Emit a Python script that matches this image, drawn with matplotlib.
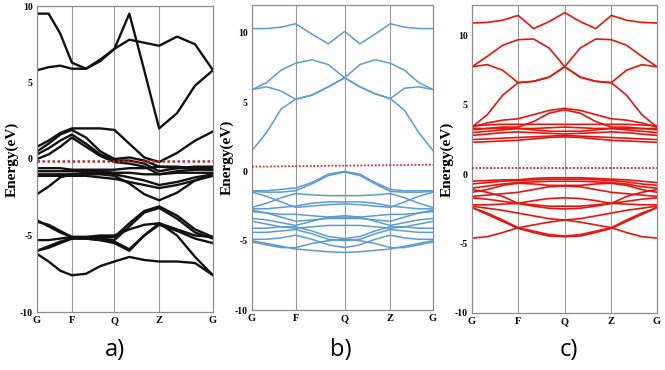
import numpy as np
import matplotlib
matplotlib.use("Agg")
import matplotlib.pyplot as plt

# ---------------- data ----------------
kpath_labels = ["G", "F", "Q", "Z", "G"]
kpts_a = [0.0, 0.198, 0.44, 0.694, 1.0]
kpts_b = [0.0, 0.241, 0.512, 0.764, 1.0]
kpts_c = [0.0, 0.249, 0.501, 0.753, 1.0]

# energies at 13 k samples: G,.,.,F,.,.,Q,.,.,Z,.,.,G
bands_a = [
    [9.5, 9.5, 8.2, 6.3, 5.9, 6.4, 7.2, 9.5, 5.8, 2.0, 3.0, 4.8, 5.8],
    [5.8, 6.0, 6.1, 5.9, 5.9, 6.5, 7.2, 7.8, 7.6, 7.4, 8.0, 7.5, 5.8],
    [0.8, 1.2, 1.7, 2.0, 2.0, 2.0, 1.9, 1.0, 0.1, -0.2, 0.4, 1.2, 1.8],
    [0.5, 1.0, 1.6, 1.9, 1.4, 0.5, 0.0, 0.1, -0.1, -0.5, -0.6, -0.6, -0.6],
    [0.3, 0.7, 1.2, 1.6, 1.0, 0.3, -0.1, -0.1, -0.3, -0.8, -0.6, -0.5, -0.5],
    [0.0, 0.3, 0.8, 1.4, 0.8, 0.2, -0.2, -0.3, -0.5, -1.0, -0.8, -0.7, -0.7],
    [-0.6, -0.6, -0.6, -0.7, -0.7, -0.7, -0.7, -0.6, -0.6, -0.5, -0.5, -0.6, -0.7],
    [-0.8, -0.8, -0.8, -0.8, -0.8, -0.8, -0.9, -0.9, -1.0, -1.0, -0.9, -0.9, -0.9],
    [-1.0, -1.0, -1.0, -1.0, -0.9, -0.9, -1.0, -1.2, -1.4, -1.7, -1.5, -1.2, -1.0],
    [-2.3, -1.8, -1.2, -1.0, -1.0, -1.0, -1.1, -1.6, -2.3, -2.7, -2.2, -1.4, -1.0],
    [-1.1, -1.1, -1.1, -1.1, -1.1, -1.2, -1.3, -1.5, -1.7, -1.9, -1.7, -1.4, -1.1],
    [-4.0, -4.4, -4.8, -5.1, -5.1, -5.1, -5.1, -4.2, -3.4, -3.1, -3.7, -4.6, -5.1],
    [-5.3, -5.3, -5.2, -5.1, -5.1, -5.0, -5.0, -4.6, -4.3, -4.2, -4.6, -5.0, -5.1],
    [-4.1, -4.3, -4.7, -5.1, -5.1, -5.2, -5.3, -4.4, -3.5, -3.2, -3.9, -4.8, -5.2],
    [-6.0, -5.8, -5.5, -5.2, -5.2, -5.3, -5.4, -5.9, -5.0, -4.3, -4.7, -5.2, -5.5],
    [-6.0, -5.7, -5.4, -5.2, -5.2, -5.3, -5.5, -6.0, -5.0, -4.2, -5.0, -6.4, -7.6],
    [-6.2, -6.7, -7.3, -7.6, -7.5, -7.0, -6.7, -6.4, -6.6, -6.7, -6.7, -6.8, -7.6],
]

bands_b = [
    [10.3, 10.3, 10.4, 10.65, 9.9, 9.2, 10.1, 9.2, 9.9, 10.65, 10.4, 10.3, 10.3],
    [5.9, 6.4, 7.3, 7.8, 8.05, 7.7, 6.75, 6.1, 5.6, 5.25, 6.0, 6.1, 5.9],
    [5.9, 6.1, 5.8, 5.2, 5.5, 6.1, 6.75, 7.7, 8.05, 7.8, 7.3, 6.4, 5.9],
    [1.5, 2.8, 4.5, 5.2, 5.5, 6.1, 6.75, 6.1, 5.6, 5.25, 4.4, 2.8, 1.5],
    [-1.4, -1.4, -1.3, -1.2, -0.8, -0.2, 0.0, -0.2, -0.8, -1.3, -1.4, -1.4, -1.4],
    [-1.45, -1.5, -1.5, -1.4, -0.9, -0.3, -0.05, -0.3, -0.9, -1.45, -1.5, -1.5, -1.45],
    [-2.6, -2.3, -1.9, -1.6, -1.7, -1.75, -1.75, -1.75, -1.7, -1.6, -1.9, -2.3, -2.6],
    [-1.5, -1.8, -2.2, -2.6, -2.5, -2.4, -2.35, -2.4, -2.5, -2.6, -2.2, -1.8, -1.5],
    [-2.7, -2.7, -2.6, -2.5, -2.3, -2.2, -2.2, -2.2, -2.3, -2.5, -2.6, -2.7, -2.7],
    [-2.8, -3.0, -3.3, -3.6, -3.5, -3.4, -3.4, -3.4, -3.5, -3.6, -3.3, -3.0, -2.8],
    [-2.9, -3.0, -3.1, -3.1, -3.2, -3.3, -3.3, -3.3, -3.2, -3.1, -3.1, -3.0, -2.9],
    [-3.4, -3.5, -3.7, -3.9, -3.6, -3.3, -3.2, -3.3, -3.6, -3.9, -3.7, -3.5, -3.4],
    [-3.6, -3.8, -4.0, -4.1, -4.0, -3.9, -3.9, -3.9, -4.0, -4.1, -4.0, -3.8, -3.6],
    [-4.1, -4.1, -4.0, -4.0, -4.3, -4.7, -4.85, -4.7, -4.3, -4.0, -4.0, -4.1, -4.1],
    [-4.4, -4.4, -4.3, -4.2, -4.5, -4.9, -5.0, -4.9, -4.5, -4.2, -4.3, -4.4, -4.4],
    [-4.9, -4.9, -4.8, -4.6, -4.9, -5.3, -5.5, -5.3, -4.9, -4.6, -4.8, -4.9, -4.9],
    [-5.0, -5.2, -5.4, -5.6, -5.7, -5.8, -5.85, -5.8, -5.7, -5.6, -5.4, -5.2, -5.0],
    [-5.1, -5.3, -5.5, -5.5, -5.2, -5.0, -4.9, -5.0, -5.2, -5.5, -5.5, -5.3, -5.1],
]

bands_c = [
    [10.9, 10.95, 11.1, 11.45, 10.5, 11.0, 11.65, 11.0, 10.5, 11.45, 11.1, 10.95, 10.9],
    [7.75, 8.5, 9.3, 9.7, 9.75, 9.1, 7.75, 7.0, 6.7, 6.6, 7.5, 7.9, 7.75],
    [7.75, 7.9, 7.5, 6.6, 6.7, 7.0, 7.75, 9.1, 9.75, 9.7, 9.3, 8.5, 7.75],
    [3.4, 4.3, 5.7, 6.6, 6.7, 7.0, 7.75, 7.0, 6.7, 6.6, 5.7, 4.3, 3.4],
    [3.4, 3.7, 3.9, 4.0, 4.3, 4.6, 4.75, 4.6, 4.3, 4.0, 3.9, 3.7, 3.4],
    [3.2, 3.3, 3.4, 3.4, 3.8, 4.4, 4.65, 4.4, 3.8, 3.4, 3.4, 3.3, 3.2],
    [3.5, 3.55, 3.6, 3.6, 3.6, 3.6, 3.6, 3.6, 3.6, 3.6, 3.6, 3.55, 3.5],
    [3.3, 3.3, 3.3, 3.3, 3.3, 3.35, 3.4, 3.35, 3.3, 3.3, 3.3, 3.3, 3.3],
    [3.0, 3.1, 3.2, 3.3, 3.2, 3.1, 3.1, 3.1, 3.2, 3.3, 3.2, 3.1, 3.0],
    [2.8, 2.9, 3.0, 3.05, 3.0, 2.95, 2.9, 2.95, 3.0, 3.05, 3.0, 2.9, 2.8],
    [2.5, 2.55, 2.6, 2.65, 2.7, 2.75, 2.8, 2.75, 2.7, 2.65, 2.6, 2.55, 2.5],
    [2.3, 2.35, 2.4, 2.45, 2.55, 2.65, 2.7, 2.65, 2.55, 2.45, 2.4, 2.35, 2.3],
    [-0.5, -0.45, -0.4, -0.4, -0.3, -0.25, -0.25, -0.25, -0.3, -0.35, -0.4, -0.5, -0.6],
    [-0.7, -0.6, -0.5, -0.45, -0.4, -0.35, -0.35, -0.35, -0.4, -0.45, -0.55, -0.7, -0.8],
    [-1.0, -0.85, -0.7, -0.6, -0.55, -0.5, -0.5, -0.5, -0.55, -0.6, -0.7, -0.9, -1.0],
    [-1.3, -1.1, -0.8, -0.65, -0.7, -0.8, -0.8, -0.8, -0.7, -0.65, -0.8, -1.1, -1.3],
    [-1.6, -1.5, -1.4, -1.3, -1.1, -0.9, -0.85, -0.9, -1.1, -1.3, -1.4, -1.5, -1.6],
    [-1.1, -1.3, -1.6, -2.1, -2.3, -2.45, -2.5, -2.45, -2.3, -2.1, -1.6, -1.3, -1.1],
    [-2.2, -2.2, -2.15, -2.1, -1.9, -1.75, -1.7, -1.75, -1.9, -2.1, -2.15, -2.2, -2.2],
    [-1.7, -1.8, -1.95, -2.1, -2.2, -2.3, -2.3, -2.3, -2.2, -2.1, -1.95, -1.8, -1.7],
    [-2.3, -2.45, -2.6, -2.8, -3.0, -3.2, -3.3, -3.45, -3.65, -3.85, -3.3, -2.8, -2.4],
    [-2.4, -2.8, -3.3, -3.85, -3.65, -3.45, -3.3, -3.2, -3.0, -2.8, -2.6, -2.45, -2.3],
    [-4.6, -4.5, -4.2, -3.85, -4.1, -4.35, -4.45, -4.35, -4.1, -3.85, -4.2, -4.5, -4.6],
    [-2.4, -2.9, -3.4, -3.9, -4.2, -4.45, -4.5, -4.45, -4.2, -3.9, -3.4, -2.9, -2.4],
]

fermi_a = [-0.15, -0.15]
fermi_b = [0.34, 0.48]
fermi_c = [0.45, 0.45]
yticks = [-10, -5, 0, 5, 10]
panel_tags = ["a)", "b)", "c)"]

# ---------------- plotting ----------------
W, H = 665, 370
fig = plt.figure(figsize=(W / 100, H / 100), dpi=100)

def kgrid(kp):
    xs = []
    for i in range(4):
        a, b = kp[i], kp[i + 1]
        xs += [a, a + (b - a) / 3, a + 2 * (b - a) / 3]
    xs.append(kp[4])
    return np.array(xs)

serif = "Liberation Serif"

panels = [
    dict(rect=(37, 213, 6, 312), kp=kpts_a, bands=bands_a, color="#111111", lw=1.7,
         ylim=(-10, 10), fermi=fermi_a, fcol="#c0272d", flw=1.8, tagx=115),
    dict(rect=(252, 433, 5, 310), kp=kpts_b, bands=bands_b, color="#5b9bd5", lw=1.1,
         ylim=(-10, 12), fermi=fermi_b, fcol="#d0312d", flw=1.3, tagx=341),
    dict(rect=(472, 657, 5, 313), kp=kpts_c, bands=bands_c, color="#e8140c", lw=1.2,
         ylim=(-10, 12.2), fermi=fermi_c, fcol="#b0242a", flw=1.3, tagx=569),
]

for p, tag in zip(panels, panel_tags):
    x0, x1, yt, yb = p["rect"]
    ax = fig.add_axes([x0 / W, 1 - yb / H, (x1 - x0) / W, (yb - yt) / H])
    xs = kgrid(p["kp"])
    for kv in p["kp"][1:4]:
        ax.axvline(kv, color="#9a9a9a", lw=0.8, zorder=1)
    for band in p["bands"]:
        ax.plot(xs, band, color=p["color"], lw=p["lw"], solid_joinstyle="round",
                solid_capstyle="round", zorder=2)
    ax.plot([0, 1], p["fermi"], color=p["fcol"], lw=p["flw"], ls=(0, (1, 1)), zorder=3)
    ax.set_xlim(0, 1)
    ax.set_ylim(*p["ylim"])
    ax.set_xticks(p["kp"])
    ax.set_xticklabels(kpath_labels, fontfamily=serif, fontweight="bold", fontsize=7.5)
    ax.set_yticks(yticks)
    ax.set_yticklabels([str(t) for t in yticks], fontfamily=serif, fontweight="bold", fontsize=7)
    ax.tick_params(length=0, pad=3)
    ax.set_ylabel("Energy(eV)", fontfamily=serif, fontweight="bold", fontsize=11, labelpad=1)
    for s in ax.spines.values():
        s.set_color("#8c8c8c")
        s.set_linewidth(0.9)
    fig.text(p["tagx"] / W, 1 - 350 / H, tag, ha="center", va="center",
             fontfamily="Open Sans", fontsize=17)

fig.savefig("out.png", dpi=100)
